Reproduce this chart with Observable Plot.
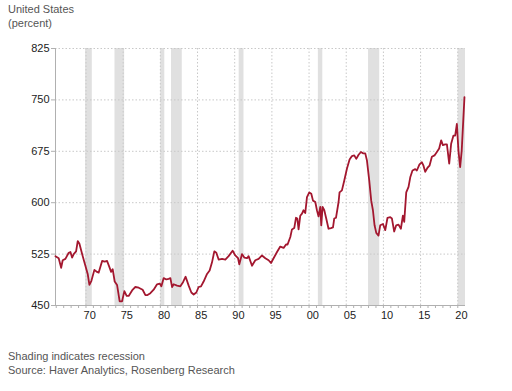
<!DOCTYPE html>
<html><head><meta charset="utf-8">
<script src="https://cdn.jsdelivr.net/npm/d3@7"></script>
<script src="https://cdn.jsdelivr.net/npm/@observablehq/plot@0.6"></script>
<style>
body{margin:0;background:#fff;font-family:"Liberation Sans",Arial,sans-serif;}
#wrap{position:relative;width:512px;height:391px;overflow:hidden;background:#fff}
.t{position:absolute;left:8px;font-size:11px;color:#555;line-height:14px;white-space:nowrap}
</style></head><body>
<div id="wrap">
<div id="chart" style="position:absolute;left:0;top:0"></div>
<div class="t" style="top:2px">United States<br>(percent)</div>
<div class="t" style="top:349px">Shading indicates recession<br>Source: Haver Analytics, Rosenberg Research</div>
</div>
<script>
const years = [1965.89,1966.33,1966.66,1966.87,1967.23,1967.68,1967.91,1968.13,1968.35,1968.67,
1968.89,1969.12,1969.48,1969.92,1970.23,1970.46,1970.73,1971.13,1971.49,1971.71,
1972.17,1972.52,1972.84,1973.15,1973.38,1973.59,1973.86,1974.18,1974.53,1974.85,
1975.16,1975.47,1975.74,1976.2,1976.64,1977.09,1977.62,1977.99,1978.22,1978.66,
1979.1,1979.56,1979.91,1980.14,1980.45,1980.81,1981.12,1981.35,1981.58,1981.79,
1982.25,1982.69,1983.05,1983.4,1983.81,1984.17,1984.48,1984.84,1985.15,1985.47,
1985.82,1986.28,1986.63,1986.95,1987.26,1987.53,1987.84,1988.3,1988.74,1989.18,
1989.72,1990.08,1990.45,1990.62,1990.98,1991.29,1991.66,1991.87,1992.33,1992.77,
1993.22,1993.67,1994.12,1994.56,1994.88,1995.23,1995.69,1996.13,1996.58,1996.9,
1997.11,1997.48,1997.7,1998.01,1998.24,1998.42,1998.59,1998.82,1999.05,1999.26,
1999.49,1999.72,2000.03,2000.3,2000.53,2000.84,2001.06,2001.28,2001.51,2001.64,
2001.82,2002.05,2002.31,2002.62,2002.95,2003.22,2003.39,2003.62,2003.97,2004.1,
2004.42,2004.73,2005.1,2005.45,2005.77,2006.08,2006.35,2006.66,2006.98,2007.25,
2007.56,2007.78,2008.09,2008.36,2008.59,2008.81,2009.04,2009.34,2009.57,2009.94,
2010.25,2010.55,2010.92,2011.14,2011.45,2011.72,2012.03,2012.35,2012.62,2012.8,
2013.07,2013.38,2013.61,2013.91,2014.28,2014.5,2014.85,2015.18,2015.39,2015.62,
2015.93,2016.2,2016.52,2016.87,2017.19,2017.5,2017.77,2018.0,2018.31,2018.54,
2018.85,2019.11,2019.42,2019.65,2019.88,2020.09,2020.32,2020.53,2020.9];
const values = [522,519,505,516,518,527,528,520,525,529,
544,540,525,508,496,480,486,502,499,498,
515,514,515,506,499,503,485,480,456,456,
471,464,464,472,477,476,473,465,465,468,
473,481,482,478,490,488,489,490,477,481,
479,478,484,492,479,469,466,469,477,478,
485,496,501,513,529,527,517,518,517,522,
530,523,519,510,525,520,519,522,508,516,
518,523,519,516,512,519,528,536,534,539,
539,550,561,563,578,577,561,581,584,589,
585,608,615,613,603,601,589,580,594,567,
594,589,577,562,563,564,577,578,601,615,
618,632,650,663,668,669,664,670,674,672,
672,662,633,603,589,567,556,552,567,569,
560,578,579,577,558,567,568,562,581,572,
615,623,637,647,649,647,656,659,654,645,
651,654,667,669,674,679,691,684,685,685,
657,686,698,698,715,676,652,676,754];
const recessionStart = [1969.95,1973.9,1980.05,1981.5,1990.6,2001.25,2008.0,2020.05];
const recessionEnd   = [1970.85,1975.2,1980.6,1982.95,1991.25,2001.85,2009.5,2021.04];
const yTicks = [450,525,600,675,750,825];
const labelYears = [1970,1975,1980,1985,1990,1995,2000,2005,2010,2015,2020];
const xDomain = [1965.9, 2021.04];

const data = years.map((y,i)=>({year:y, value:values[i]}));
const recessions = recessionStart.map((s,i)=>({start:s, end:recessionEnd[i]}));
const labelPos = labelYears.map(y=>y+0.5);
const yearStarts = d3.range(1966, 2021);

const chart = Plot.plot({
  width: 512, height: 330,
  marginTop: 48, marginLeft: 55, marginRight: 47, marginBottom: 25,
  x: {domain: xDomain},
  y: {domain: [450, 825]},
  style: {fontFamily: '"Liberation Sans", Arial, sans-serif', fontSize: "11px", color: "#222", background: "#fff"},
  marks: [
    Plot.rect(recessions, {x1: "start", x2: "end", y1: 450, y2: 825, fill: "#e0e0e0"}),
    Plot.ruleY(yTicks, {stroke: "#c8c8c8", strokeDasharray: "1.5,2"}),
    Plot.ruleX(labelYears, {y1: 450, y2: 825, stroke: "#c8c8c8", strokeDasharray: "1.5,2"}),
    Plot.ruleX([xDomain[0]], {y1: 450, y2: 825, stroke: "#b0b0b0"}),
    Plot.ruleY([450], {stroke: "#b0b0b0"}),
    Plot.axisY({ticks: yTicks, tickSize: 4, tickPadding: 2, stroke: "#b0b0b0", label: null}),
    Plot.axisX({ticks: yearStarts, tickSize: 3, tickFormat: () => "", stroke: "#b0b0b0", label: null}),
    Plot.axisX({ticks: labelPos, tickSize: 0, tickPadding: 6, tickFormat: d => String(Math.floor(d) % 100).padStart(2, "0"), label: null}),
    Plot.line(data, {x: "year", y: "value", stroke: "#a3172f", strokeWidth: 1.8})
  ]
});
document.getElementById("chart").appendChild(chart);
</script>
</body></html>
